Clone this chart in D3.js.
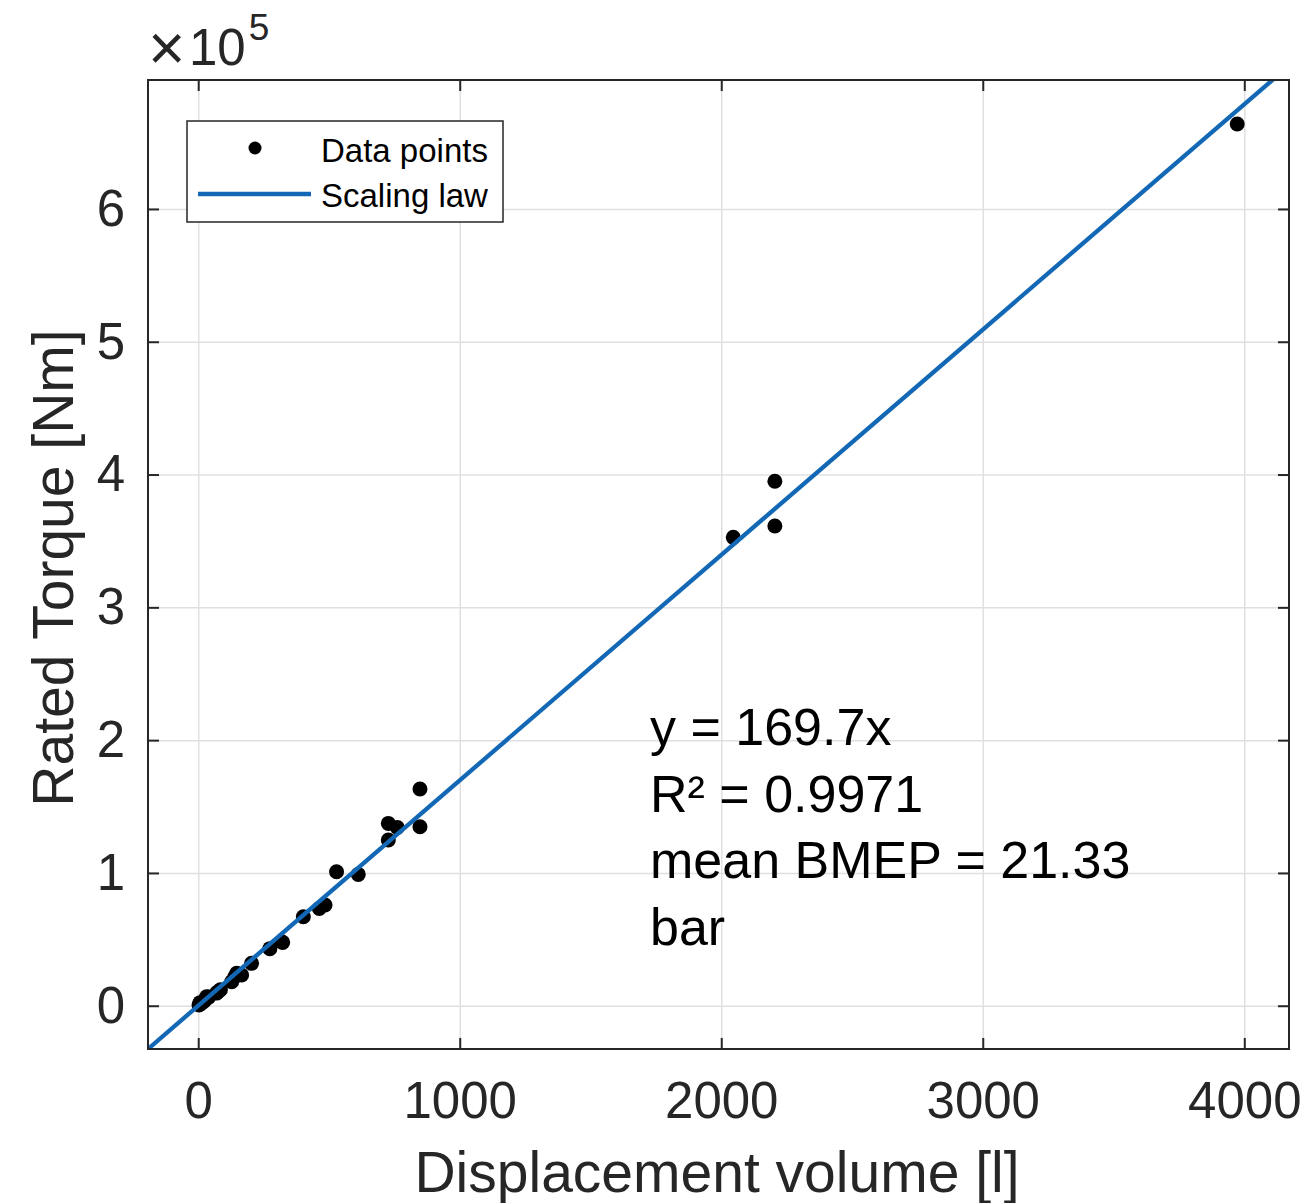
<!DOCTYPE html>
<html lang="en">
<head>
    <meta charset="UTF-8">
    <title>Rated Torque vs Displacement volume</title>
    <script src="https://d3js.org/d3.v7.min.js"></script>
    <style>
        body {
            margin: 0;
            background: #fff;
        }
        svg text {
            font-family: "Liberation Sans", Arial, Helvetica, sans-serif;
        }
        .tick text {
            font-size: 51px;
            fill: #262626;
        }
        .tick line {
            stroke: #262626;
            stroke-width: 2;
        }
        .grid .tick line {
            stroke: #e0e0e0;
            stroke-width: 1.5;
        }
        .axis-label {
            font-size: 57px;
            fill: #262626;
        }
    </style>
</head>
<body>
    <div id="chart"></div>

    <script>
        // Displacement volume [l] and rated torque [Nm]
        const volume = [3, 7, 10, 20, 26, 32, 40, 70, 76, 85, 128, 140, 147, 166, 204,
                        274, 319, 323, 402, 463, 485, 529, 612, 727, 727, 761, 848, 848,
                        2046, 2205, 2205, 3973];
        const torque = [500, 2300, 1500, 3000, 4300, 6800, 6500, 9500, 10500, 12000, 18100, 21800, 24400, 23100, 31900,
                        43000, 48200, 47700, 67000, 73300, 75800, 100900, 98900, 124800, 137300, 134300, 163200, 134800,
                        352700, 361200, 395000, 664000];

        const slope = 169.7;                 // scaling law y = 169.7x
        const xTicks = [0, 1000, 2000, 3000, 4000];
        const yTicks = [0, 1e5, 2e5, 3e5, 4e5, 5e5, 6e5];
        const xLimits = [-192, 4171];
        const yLimits = [slope * xLimits[0], 697100];
        const annotation = ["y = 169.7x", "R\u00b2 = 0.9971", "mean BMEP = 21.33", "bar"];
        const legendLabels = ["Data points", "Scaling law"];

        const W = 1305, H = 1203;
        const pLeft = 148, pRight = 1289, pTop = 80, pBottom = 1049;
        const blue = "#1368b5";
        const ink = "#262626";

        const svg = d3.select("#chart")
            .append("svg")
            .attr("width", W)
            .attr("height", H);

        const x = d3.scaleLinear().domain(xLimits).range([pLeft, pRight]);
        const y = d3.scaleLinear().domain(yLimits).range([pBottom, pTop]);

        // grid
        svg.append("g")
            .attr("class", "grid")
            .attr("transform", `translate(0, ${pBottom})`)
            .call(d3.axisBottom(x).tickValues(xTicks).tickSize(-(pBottom - pTop)).tickFormat(""))
            .call(g => g.select(".domain").remove());
        svg.append("g")
            .attr("class", "grid")
            .attr("transform", `translate(${pLeft}, 0)`)
            .call(d3.axisLeft(y).tickValues(yTicks).tickSize(-(pRight - pLeft)).tickFormat(""))
            .call(g => g.select(".domain").remove());

        // clip for the fitted line
        svg.append("clipPath")
            .attr("id", "plot-clip")
            .append("rect")
            .attr("x", pLeft)
            .attr("y", pTop)
            .attr("width", pRight - pLeft)
            .attr("height", pBottom - pTop);

        // data points
        svg.append("g")
            .selectAll("circle")
            .data(volume.map((v, i) => [v, torque[i]]))
            .enter()
            .append("circle")
            .attr("cx", d => x(d[0]))
            .attr("cy", d => y(d[1]))
            .attr("r", 7.5)
            .attr("fill", "#000");

        // scaling law
        const line = d3.line()
            .x(d => x(d))
            .y(d => y(slope * d));
        svg.append("path")
            .datum(xLimits)
            .attr("d", line)
            .attr("clip-path", "url(#plot-clip)")
            .attr("fill", "none")
            .attr("stroke", blue)
            .attr("stroke-width", 4.3);

        // axes with inward ticks on all four sides
        svg.append("g")
            .attr("transform", `translate(0, ${pBottom})`)
            .call(d3.axisBottom(x).tickValues(xTicks).tickSize(-11).tickPadding(33).tickFormat(d => d))
            .call(g => g.select(".domain").remove());
        svg.append("g")
            .attr("transform", `translate(0, ${pTop})`)
            .call(d3.axisTop(x).tickValues(xTicks).tickSize(-11).tickFormat(""))
            .call(g => g.select(".domain").remove());
        svg.append("g")
            .attr("transform", `translate(${pLeft}, 0)`)
            .call(d3.axisLeft(y).tickValues(yTicks).tickSize(-11).tickPadding(23)
                .tickFormat(d => d / 1e5))
            .call(g => g.select(".domain").remove());
        svg.append("g")
            .attr("transform", `translate(${pRight}, 0)`)
            .call(d3.axisRight(y).tickValues(yTicks).tickSize(-11).tickFormat(""))
            .call(g => g.select(".domain").remove());

        svg.selectAll("g").attr("font-family", null).attr("font-size", null);

        // box
        svg.append("rect")
            .attr("x", pLeft)
            .attr("y", pTop)
            .attr("width", pRight - pLeft)
            .attr("height", pBottom - pTop)
            .attr("fill", "none")
            .attr("stroke", ink)
            .attr("stroke-width", 2);

        // exponent
        svg.append("text")
            .attr("x", 148)
            .attr("y", 70)
            .attr("fill", ink)
            .style("font-size", "64px")
            .text("\u00d7");
        const expo = svg.append("text")
            .attr("x", 189)
            .attr("y", 65)
            .attr("fill", ink)
            .style("font-size", "51px");
        expo.append("tspan").text("10");
        expo.append("tspan").text("5").attr("dy", -25).attr("dx", 3).style("font-size", "37px");

        // axis labels
        svg.append("text")
            .attr("class", "axis-label")
            .attr("x", 717)
            .attr("y", 1192)
            .style("text-anchor", "middle")
            .text("Displacement volume [l]");

        svg.append("text")
            .attr("class", "axis-label")
            .attr("transform", "rotate(-90)")
            .attr("x", -568)
            .attr("y", 73)
            .style("text-anchor", "middle")
            .text("Rated Torque [Nm]");

        // annotation
        svg.append("g")
            .selectAll("text")
            .data(annotation)
            .enter()
            .append("text")
            .attr("x", 650)
            .attr("y", (d, i) => 745 + i * 66.5)
            .attr("fill", "#000")
            .style("font-size", "52px")
            .text(d => d);

        // legend
        const legend = svg.append("g");
        legend.append("rect")
            .attr("x", 187)
            .attr("y", 121)
            .attr("width", 316)
            .attr("height", 101)
            .attr("fill", "#fff")
            .attr("stroke", ink)
            .attr("stroke-width", 1.5);
        legend.append("circle")
            .attr("cx", 255)
            .attr("cy", 148)
            .attr("r", 6.5)
            .attr("fill", "#000");
        legend.append("line")
            .attr("x1", 198)
            .attr("x2", 311)
            .attr("y1", 194)
            .attr("y2", 194)
            .attr("stroke", blue)
            .attr("stroke-width", 4.3);
        legend.selectAll(".legend-text")
            .data(legendLabels)
            .enter()
            .append("text")
            .attr("class", "legend-text")
            .attr("x", 321)
            .attr("y", (d, i) => 162 + i * 45)
            .attr("fill", "#000")
            .style("font-size", "33px")
            .text(d => d);
    </script>
</body>
</html>
